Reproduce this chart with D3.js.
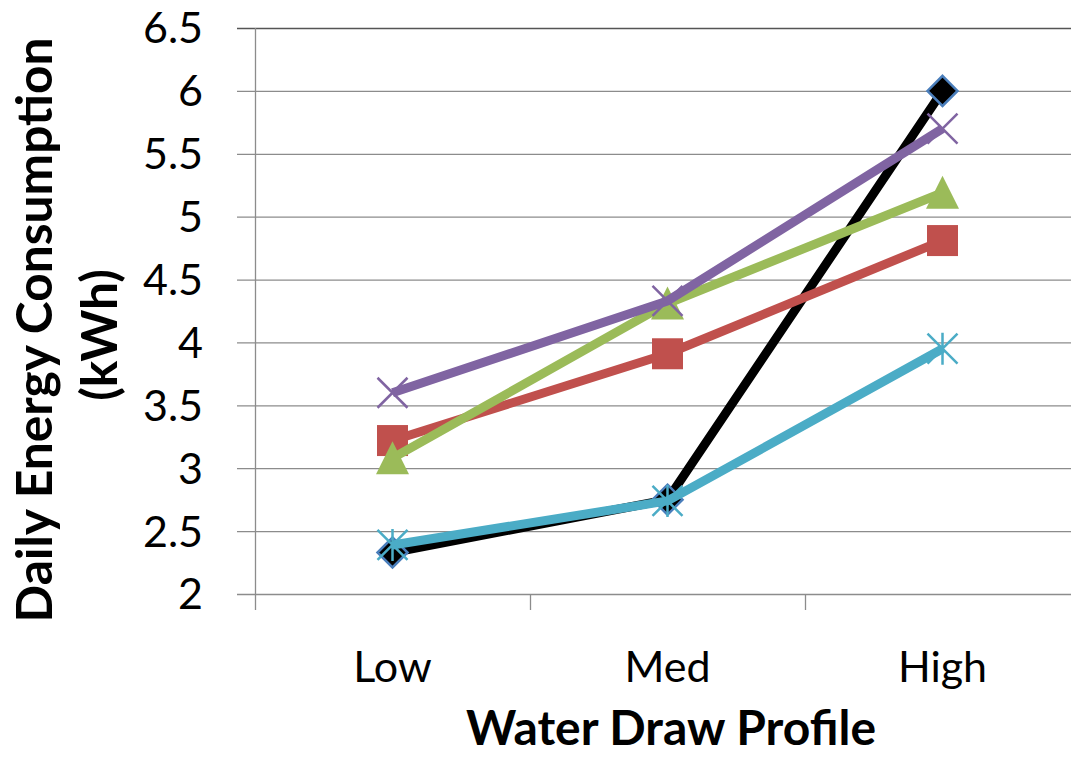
<!DOCTYPE html>
<html>
<head>
<meta charset="utf-8">
<script src="https://cdn.jsdelivr.net/npm/d3@7"></script>
<style>
  html, body { margin: 0; padding: 0; background: #fff; }
  svg { display: block; }
  text { font-family: Lato, "Open Sans", sans-serif; fill: #000; }
</style>
</head>
<body>
<svg id="chart" width="1071" height="758"></svg>
<script>
// Water draw profiles on the category axis
const categories = ["Low", "Med", "High"];

// Daily energy consumption (kWh) per profile, one array per series
const seriesA = [2.33, 2.75, 6.00];   // black, diamond
const seriesB = [3.22, 3.91, 4.81];   // red, square
const seriesC = [3.08, 4.31, 5.19];   // green, triangle
const seriesD = [3.60, 4.33, 5.70];   // purple, x
const seriesE = [2.39, 2.74, 3.95];   // teal, asterisk

const yTicks = [2, 2.5, 3, 3.5, 4, 4.5, 5, 5.5, 6, 6.5];
const yTitleLines = ["Daily Energy Consumption", "(kWh)"];
const xTitle = "Water Draw Profile";

const series = [
  { values: seriesA, color: "#000000", marker: "diamond" },
  { values: seriesB, color: "#c0504d", marker: "square" },
  { values: seriesC, color: "#9bbb59", marker: "triangle" },
  { values: seriesD, color: "#8064a2", marker: "x" },
  { values: seriesE, color: "#4bacc6", marker: "star" }
];

const svg = d3.select("#chart");
const plot = { left: 255, right: 1080, top: 28, bottom: 594 };

const x = d3.scaleBand().domain(categories).range([plot.left, plot.right]).padding(0);
const y = d3.scaleLinear().domain([2, 6.5]).range([plot.bottom, plot.top]);

// horizontal gridlines
svg.append("g")
  .selectAll("line")
  .data(yTicks)
  .join("line")
  .attr("x1", plot.left - 18)
  .attr("x2", 1071)
  .attr("y1", d => y(d) + 0.5)
  .attr("y2", d => y(d) + 0.5)
  .attr("stroke", d => d === 6.5 ? "#555" : "#8c8c8c")
  .attr("stroke-width", 1.3);

// y axis line
svg.append("line")
  .attr("x1", plot.left + 0.5).attr("x2", plot.left + 0.5)
  .attr("y1", plot.top).attr("y2", plot.bottom + 16)
  .attr("stroke", "#8c8c8c").attr("stroke-width", 1.3);

// category boundary ticks below the x axis
svg.append("g")
  .selectAll("line")
  .data(categories.slice(1))
  .join("line")
  .attr("x1", d => x(d) + 0.5).attr("x2", d => x(d) + 0.5)
  .attr("y1", plot.bottom).attr("y2", plot.bottom + 16)
  .attr("stroke", "#8c8c8c").attr("stroke-width", 1.3);

// y tick labels
svg.append("g")
  .selectAll("text")
  .data(yTicks)
  .join("text")
  .attr("x", 203)
  .attr("y", d => y(d))
  .attr("dy", "0.36em")
  .attr("text-anchor", "end")
  .style("font-size", "43px")
  .text(d => d3.format("")(d));

// x tick labels
svg.append("g")
  .selectAll("text")
  .data(categories)
  .join("text")
  .attr("x", d => x(d) + x.bandwidth() / 2)
  .attr("y", 682)
  .attr("text-anchor", "middle")
  .style("font-size", "43px")
  .text(d => d);

// fit a text element to a target length by adjusting its font size
function fitText(sel, target, start) {
  sel.style("font-size", start + "px");
  const len = sel.node().getComputedTextLength();
  sel.style("font-size", (start * target / len).toFixed(2) + "px");
}

// x axis title
const xt = svg.append("text")
  .attr("x", 671).attr("y", 745)
  .attr("text-anchor", "middle")
  .style("font-weight", "bold")
  .text(xTitle);
fitText(xt, 410, 44);

// y axis title (two lines, rotated)
const yt1 = svg.append("text")
  .attr("transform", "translate(52,330) rotate(-90)")
  .attr("text-anchor", "middle")
  .style("font-weight", "bold")
  .text(yTitleLines[0]);
fitText(yt1, 585, 48);
const yt2 = svg.append("text")
  .attr("transform", "translate(117,335) rotate(-90)")
  .attr("text-anchor", "middle")
  .style("font-weight", "bold")
  .style("font-size", yt1.style("font-size"))
  .text(yTitleLines[1]);

// series lines and markers
const line = d3.line()
  .x((d, i) => x(categories[i]) + x.bandwidth() / 2)
  .y(d => y(d));

series.forEach(s => {
  const g = svg.append("g");
  g.append("path")
    .datum(s.values)
    .attr("d", line)
    .attr("fill", "none")
    .attr("stroke", s.color)
    .attr("stroke-width", 9)
    .attr("stroke-linejoin", "round");

  const pts = g.selectAll("g.m")
    .data(s.values)
    .join("g")
    .attr("class", "m")
    .attr("transform", (d, i) => `translate(${x(categories[i]) + x.bandwidth() / 2},${y(d)})`);

  if (s.marker === "diamond") {
    pts.append("path")
      .attr("d", "M0,-15L15,0L0,15L-15,0Z")
      .attr("fill", "#000").attr("stroke", "#4a7ebb").attr("stroke-width", 2.5);
  } else if (s.marker === "square") {
    pts.append("rect")
      .attr("x", -15.5).attr("y", -15.5).attr("width", 31).attr("height", 31)
      .attr("fill", s.color);
  } else if (s.marker === "triangle") {
    pts.append("path")
      .attr("d", "M0,-17L16.5,16L-16.5,16Z")
      .attr("fill", s.color);
  } else if (s.marker === "x") {
    pts.append("path")
      .attr("d", "M-15,-15L15,15M15,-15L-15,15")
      .attr("stroke", s.color).attr("stroke-width", 2.5).attr("fill", "none");
  } else if (s.marker === "star") {
    pts.append("path")
      .attr("d", "M-15,-15L15,15M15,-15L-15,15M0,-16L0,16")
      .attr("stroke", s.color).attr("stroke-width", 2.5).attr("fill", "none");
  }
});
</script>
</body>
</html>
